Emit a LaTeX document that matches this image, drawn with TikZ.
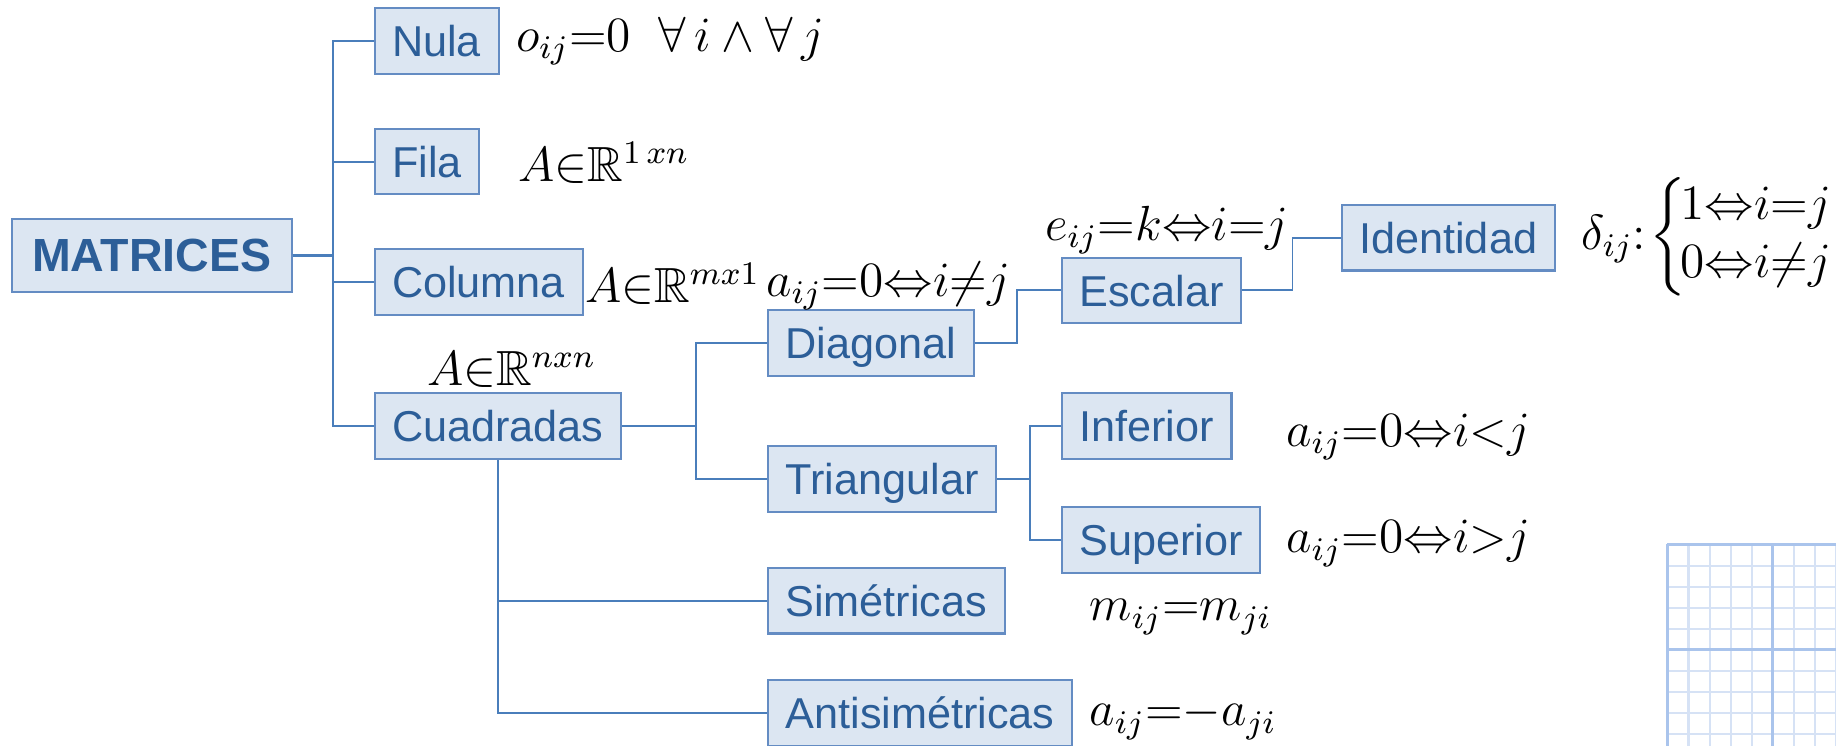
\documentclass[tikz,border=0pt]{standalone}
\usepackage{amsmath,amssymb}
\usepackage{fontspec}
\setsansfont{Liberation Sans}
\usepackage{tikz}

\definecolor{boxfill}{RGB}{220,230,242}
\definecolor{boxline}{RGB}{100,140,195}
\definecolor{boxtext}{RGB}{44,94,152}
\definecolor{linkline}{RGB}{74,126,187}
\definecolor{gridminor}{RGB}{214,226,245}
\definecolor{gridmajor}{RGB}{170,196,236}

\begin{document}
\begin{tikzpicture}[
  x=0.1mm, y=-0.1mm,
  box/.style={rectangle, draw=boxline, fill=boxfill, text=boxtext, line width=0.5pt,
    anchor=west, inner xsep=1.5mm, minimum height=5.6mm, text height=7.6pt, text depth=0pt,
    font=\sffamily\fontsize{10.5}{12}\selectfont},
  root/.style={box, inner xsep=1.75mm, minimum height=6.2mm, text height=8.1pt,
    font=\sffamily\bfseries\fontsize{11.3}{13}\selectfont},
  link/.style={draw=linkline, line width=0.45pt},
  fml/.style={anchor=base west, inner sep=0pt, font=\fontsize{12}{14}\selectfont}
]
\useasboundingbox (0,0) rectangle (1568,637);

% squared paper in the corner
\foreach \gx in {1,2,3,4,6,7,8} \draw[gridminor, line width=0.5pt] (1424+\gx*18,465) -- (1424+\gx*18,637);
\foreach \gy in {1,2,3,4,6,7,8,9} \draw[gridminor, line width=0.5pt] (1424,465+\gy*18) -- (1568,465+\gy*18);
\foreach \gx in {0,5} \draw[gridmajor, line width=0.7pt] (1424+\gx*18,465) -- (1424+\gx*18,637);
\foreach \gy in {0,5} \draw[gridmajor, line width=0.7pt] (1424,465+\gy*18) -- (1568,465+\gy*18);

\node[root] (matrices) at (9,218) {MATRICES};

\node[box] (nula) at (319,35) {Nula};
\node[box] (fila) at (319,138) {Fila};
\node[box] (columna) at (319,241) {Columna};
\node[box] (cuadradas) at (319,364) {Cuadradas};

\node[box] (diagonal) at (655,293) {Diagonal};
\node[box] (triangular) at (655,409) {Triangular};
\node[box] (simetricas) at (655,513) {Simétricas};
\node[box] (antisim) at (655,609) {Antisimétricas};

\node[box] (escalar) at (906,248) {Escalar};
\node[box] (identidad) at (1145,203) {Identidad};
\node[box] (inferior) at (906,364) {Inferior};
\node[box] (superior) at (906,461) {Superior};

% formulas
\node[fml] (fnula) at (440,44) {$o_{ij}{=}0\;\;\forall\,i\wedge\forall\,j$};
\node[fml] (ffila) at (442,155) {$A{\in}\mathbb{R}^{1\,xn}$};
\node[fml] (fcolumna) at (499,258) {$A{\in}\mathbb{R}^{mx1}$};
\node[fml] (fdiagonal) at (654,253) {$a_{ij}{=}0{\Leftrightarrow}i{\neq}j$};
\node[fml] (fcuadradas) at (364,329) {$A{\in}\mathbb{R}^{nxn}$};
\node[fml] (fescalar) at (892,205) {$e_{ij}{=}k{\Leftrightarrow}i{=}j$};
\node[fml] (fidentidad) at (1350,213) {$\delta_{ij}{:}\mkern-2mu\left\{\mkern-2mu\begin{array}{@{}l@{}}1{\Leftrightarrow}i{=}j\\0{\Leftrightarrow}i{\neq}j\end{array}\right.$};
\node[fml] (finferior) at (1098,381) {$a_{ij}{=}0{\Leftrightarrow}i{<}j$};
\node[fml] (fsuperior) at (1098,472) {$a_{ij}{=}0{\Leftrightarrow}i{>}j$};
\node[fml] (fsimetricas) at (930,530) {$m_{ij}{=}m_{ji}$};
\node[fml] (fantisim) at (930,620) {$a_{ij}{=}{-}a_{ji}$};

\draw[link, line width=0.6pt] (matrices.east) -- ++(34,0) |- (nula.west);
\draw[link] (matrices.east) -- ++(34,0) |- (fila.west);
\draw[link] (matrices.east) -- ++(34,0) |- (columna.west);
\draw[link] (matrices.east) -- ++(34,0) |- (cuadradas.west);
\draw[link] (cuadradas.east) -- ++(63,0) |- (diagonal.west);
\draw[link] (cuadradas.east) -- ++(63,0) |- (triangular.west);
\draw[link] (cuadradas.south) |- (simetricas.west);
\draw[link] (cuadradas.south) |- (antisim.west);
\draw[link] (diagonal.east) -- ++(36,0) |- (escalar.west);
\draw[link] (escalar.east) -- ++(43,0) |- (identidad.west);
\draw[link] (triangular.east) -- ++(28,0) |- (inferior.west);
\draw[link] (triangular.east) -- ++(28,0) |- (superior.west);
\end{tikzpicture}
\end{document}
